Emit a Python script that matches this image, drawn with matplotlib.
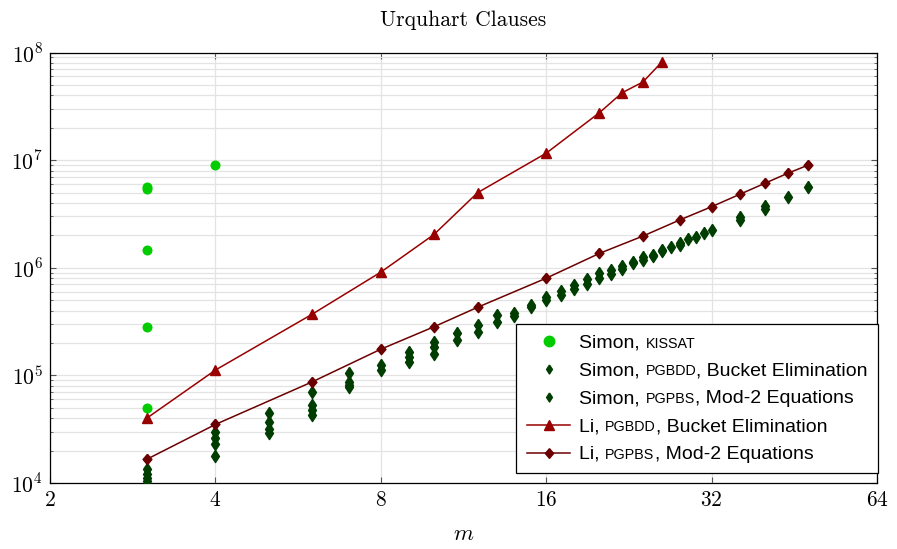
import matplotlib
matplotlib.use('Agg')
import matplotlib.pyplot as plt
from matplotlib.lines import Line2D
from matplotlib.offsetbox import AnchoredOffsetbox, VPacker, HPacker, TextArea, DrawingArea
from matplotlib.ticker import FixedLocator, LogLocator, NullFormatter

plt.rcParams['mathtext.fontset'] = 'cm'

# ---- data ----
kissat_m = [3, 3, 3, 3, 3, 4]
kissat_clauses = [5.4e6, 5.6e6, 1.46e6, 2.81e5, 4.97e4, 9.0e6]

simon_bdd_m = [3, 3, 4, 4, 5, 5, 6, 6, 7, 7, 8, 9, 9, 10, 10, 11, 12, 13, 14,
               15, 16, 17, 18, 19, 20, 21, 22, 23, 24]
simon_bdd_clauses = [1.35e4, 1.12e4, 3.0e4, 2.3e4, 4.5e4, 3.2e4, 7.05e4, 4.75e4,
                     1.05e5, 8.2e4, 1.25e5, 1.66e5, 1.34e5, 2.05e5, 1.58e5, 2.45e5,
                     2.94e5, 3.63e5, 3.8e5, 4.5e5, 5.38e5, 6.05e5, 6.9e5, 7.8e5,
                     8.85e5, 9.5e5, 1.04e6, 1.14e6, 1.27e6]

simon_pbs_m = [3, 3, 4, 4, 5, 5, 6, 6, 7, 7, 8, 9, 10, 11, 12, 13, 14, 15, 16,
               17, 18, 19, 20, 21, 22, 23, 24, 25, 25, 26, 26, 27, 28, 28, 29, 30,
               31, 32, 36, 36, 40, 40, 44, 48]
simon_pbs_clauses = [1.22e4, 1.05e4, 2.6e4, 1.8e4, 3.7e4, 2.9e4, 5.3e4, 4.3e4,
                     8.7e4, 7.8e4, 1.12e5, 1.49e5, 1.85e5, 2.13e5, 2.55e5, 3.15e5,
                     3.6e5, 4.3e5, 5.0e5, 5.6e5, 6.4e5, 7.0e5, 7.95e5, 8.73e5,
                     9.66e5, 1.1e6, 1.18e6, 1.31e6, 1.28e6, 1.46e6, 1.42e6, 1.55e6,
                     1.7e6, 1.64e6, 1.84e6, 1.92e6, 2.09e6, 2.25e6, 2.95e6, 2.8e6,
                     3.73e6, 3.53e6, 4.56e6, 5.6e6]

li_bdd_m = [3, 4, 6, 8, 10, 12, 16, 20, 22, 24, 26]
li_bdd_clauses = [4.0e4, 1.12e5, 3.7e5, 9.1e5, 2.04e6, 4.98e6, 1.16e7, 2.76e7,
                  4.23e7, 5.32e7, 8.2e7]

li_pbs_m = [3, 4, 6, 8, 10, 12, 16, 20, 24, 28, 32, 36, 40, 44, 48]
li_pbs_clauses = [1.66e4, 3.5e4, 8.7e4, 1.75e5, 2.83e5, 4.29e5, 8.0e5, 1.36e6,
                  1.97e6, 2.78e6, 3.69e6, 4.81e6, 6.09e6, 7.54e6, 9.0e6]

x_ticks = [2, 4, 8, 16, 32, 64]
y_ticks = [1e4, 1e5, 1e6, 1e7, 1e8]

green = '#00cc00'
dkgreen = '#003d00'
red = '#990000'
dkred = '#6b0000'

thin_diamond = [(0, 1), (0.65, 0), (0, -1), (-0.65, 0), (0, 1)]
fat_diamond = [(0, 1), (0.85, 0), (0, -1), (-0.85, 0), (0, 1)]

fig = plt.figure(figsize=(8.97, 5.49), dpi=100)
ax = fig.add_axes([50 / 897, 66 / 549, 827 / 897, 430.5 / 549])
ax.set_xscale('log', base=2)
ax.set_yscale('log')
ax.set_xlim(2, 64)
ax.set_ylim(1e4, 1e8)

ax.plot(kissat_m, kissat_clauses, 'o', color=green, ms=7.2, mec='none', zorder=3)
ax.plot(simon_bdd_m, simon_bdd_clauses, ls='none', marker=thin_diamond, ms=8.8,
        color=dkgreen, mec=dkgreen, zorder=3)
ax.plot(simon_pbs_m, simon_pbs_clauses, ls='none', marker=thin_diamond, ms=8.8,
        color=dkgreen, mec=dkgreen, zorder=3)
ax.plot(li_bdd_m, li_bdd_clauses, '-', marker='^', color=red, lw=1.1, ms=7,
        mec=red, zorder=4)
ax.plot(li_pbs_m, li_pbs_clauses, '-', marker=fat_diamond, color=dkred, lw=1.1,
        ms=7.5, mec=dkred, zorder=4)

# axes, ticks, grid
ax.xaxis.set_major_locator(FixedLocator(x_ticks))
ax.xaxis.set_minor_locator(FixedLocator([]))
ax.set_xticklabels([r'$%d$' % t for t in x_ticks])
ax.yaxis.set_major_locator(FixedLocator(y_ticks))
ax.yaxis.set_minor_locator(LogLocator(base=10, subs=range(2, 10)))
ax.yaxis.set_minor_formatter(NullFormatter())
ax.set_yticklabels([r'$10^{%d}$' % i for i in range(4, 9)])
ax.tick_params(which='both', direction='in', top=True, right=True,
               labelsize=15.5, color='#555555', pad=5)
ax.tick_params(which='major', length=4.5, width=0.8)
ax.tick_params(which='minor', length=2, width=0.6)
ax.grid(which='major', color='#e3e3e3', lw=0.9, zorder=0)
ax.grid(which='minor', axis='y', color='#e3e3e3', lw=0.9, zorder=0)
ax.set_axisbelow(True)
for s in ax.spines.values():
    s.set_linewidth(0.9)

ax.set_xlabel(r'$m$', fontsize=16.5, labelpad=9)
ax.set_title('Urquhart Clauses', fontsize=15.5, family='cmr10', pad=19)


# legend, built by hand to mimic the small caps
def row(marker, color, ms, parts, line=False):
    da = DrawingArea(32.2, 8, 0, 0)
    if line:
        da.add_artist(Line2D([1.2, 32.2], [4.5, 4.5], color=color, lw=1.1))
    da.add_artist(Line2D([17], [4.5], marker=marker, ms=ms, color=color,
                         mec=color, ls='none'))
    texts = []
    for txt, small in parts:
        texts.append(TextArea(txt, textprops=dict(family='Liberation Sans',
                                                  fontsize=10.3 if small else 14)))
    words = HPacker(children=texts, align='baseline', pad=0, sep=0)
    return HPacker(children=[da, words], align='baseline', pad=0, sep=6.5)


rows = [
    row('o', green, 7.5, [('Simon, ', False), ('KISSAT', True)]),
    row(thin_diamond, dkgreen, 6.5, [('Simon, ', False), ('PGBDD', True),
                                     (', Bucket Elimination', False)]),
    row(thin_diamond, dkgreen, 6.5, [('Simon, ', False), ('PGPBS', True),
                                     (', Mod-2 Equations', False)]),
    row('^', red, 7, [('Li, ', False), ('PGBDD', True),
                      (', Bucket Elimination', False)], line=True),
    row(fat_diamond, dkred, 7, [('Li, ', False), ('PGPBS', True),
                                (', Mod-2 Equations', False)], line=True),
]
box = VPacker(children=rows, align='left', pad=0, sep=7.8)
anch = AnchoredOffsetbox(loc='lower right', child=box, pad=0.73, borderpad=0,
                         frameon=True, bbox_to_anchor=(1.001, 0.023),
                         bbox_transform=ax.transAxes)
anch.patch.set_edgecolor('black')
anch.patch.set_linewidth(0.9)
anch.patch.set_boxstyle('square', pad=0)
anch.set_zorder(6)
ax.add_artist(anch)

fig.savefig('out.png', dpi=100)
